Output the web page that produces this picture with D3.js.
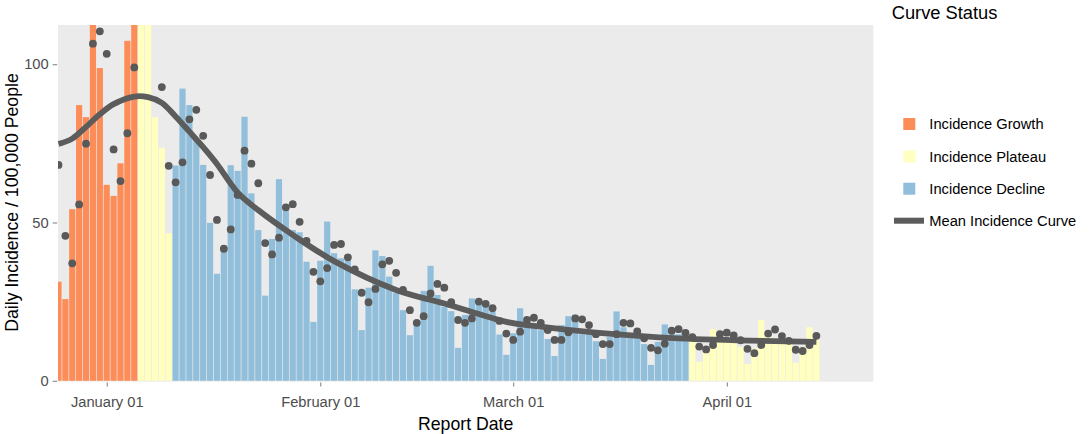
<!DOCTYPE html>
<html><head><meta charset="utf-8">
<script src="https://cdn.jsdelivr.net/npm/d3@7"></script>
<style>
body{margin:0;background:#fff}
svg{display:block}
text{font-family:"Liberation Sans",Arial,Helvetica,sans-serif}
</style>
</head><body>
<svg id="chart" width="1091" height="434"></svg>
<script>
// ---------------- DATA ----------------
const startDate = "2020-12-25"; // first report date (one bar per day)
const incidenceBars = [
  31.3,25.8,54.2,87.1,83.3,120,98.8,                       // Dec 25-31
  61.9,58.4,68.7,107.4,118,122,116,83.2,73.6,46.6,          // Jan 1-10
  68.0,92.3,87.1,76.7,68.2,49.9,33.8,41.7,68.1,66.3,        // Jan 11-20
  83.4,59.2,47.6,26.9,44.8,63.7,54.3,47.6,46.9,37.6,18.6,   // Jan 21-31
  37.9,50.3,40.3,38.7,38.1,28.9,16.0,29.4,41.2,39.4,        // Feb 1-10
  32.9,27.8,22.3,14.4,18.1,28.4,36.3,27.1,23.4,22.0,        // Feb 11-20
  10.4,20.8,26.0,25.0,23.6,21.8,14.6,8.2,                   // Feb 21-28
  15.0,22.9,16.9,16.9,16.0,13.2,7.8,17.6,20.4,20.9,         // Mar 1-10
  14.7,14.7,12.5,6.9,13.9,21.9,16.9,13.9,13.7,11.6,         // Mar 11-20
  5.0,12.3,17.8,16.6,14.7,14.0,13.9,6.0,11.0,16.3,13.9,     // Mar 21-31
  13.3,12.0,10.6,5.3,10.2,19.2,13.9,13.5,12.9,12.4,         // Apr 1-10
  5.7,10.6,16.9,12.9                                        // Apr 11-14
];
const incidencePoints = [
  68.2,45.8,37.1,55.7,74.9,106.5,110.4,
  103.3,73.1,63.1,78.2,99.0,117,121,116,92.8,67.9,
  62.7,69.0,82.6,85.6,77.4,65.0,50.8,41.7,47.8,58.7,
  72.7,68.6,62.4,43.5,39.9,45.2,54.8,55.8,50.2,44.2,34.4,
  31.4,35.6,42.9,43.2,39.0,35.2,27.8,24.8,29.0,36.8,
  37.9,34.1,28.7,22.3,18.3,20.4,27.6,30.6,29.4,24.8,
  19.2,18.3,19.7,25.0,24.3,22.9,18.9,14.9,
  12.9,15.5,19.2,19.9,18.3,16.0,12.9,12.9,15.3,19.7,
  19.4,17.6,14.7,11.6,11.6,14.7,18.3,18.1,15.6,13.4,
  10.4,9.6,11.7,15.8,16.3,15.1,13.8,10.8,9.9,11.3,14.7,
  15.2,14.3,12.8,10.1,8.7,11.3,14.9,16.2,14.1,12.6,
  9.8,9.4,11.3,14.2
];
// curve status phases (each phase runs until the next one starts)
const phaseNames  = ["Incidence Growth","Incidence Plateau","Incidence Decline","Incidence Plateau"];
const phaseStarts = ["2020-12-25","2021-01-06","2021-01-11","2021-03-27"];
// mean incidence curve
const curveDates  = ["2020-12-25","2020-12-27","2020-12-29","2020-12-31","2021-01-02","2021-01-05","2021-01-07",
                     "2021-01-09","2021-01-11","2021-01-13","2021-01-15","2021-01-17","2021-01-20","2021-01-23",
                     "2021-01-28","2021-02-03","2021-02-12","2021-02-19","2021-02-28","2021-03-04","2021-03-13",
                     "2021-03-25","2021-04-14"];
const curveValues = [74.8,76.5,80.2,84.2,87.4,89.8,89.6,87.8,83.5,78.7,73.8,68.5,59.5,53.9,
                     46.1,37.8,28.7,24.4,18.6,17.3,15.2,13.4,12.3];
// legend
const legendLabels = ["Incidence Growth","Incidence Plateau","Incidence Decline"];
const legendColors = ["#fc8d59","#ffffbf","#91bfdb"];
const curveLegendLabel = "Mean Incidence Curve";
const legendTitle = "Curve Status";
// axes
const xTickDates  = ["2021-01-01","2021-02-01","2021-03-01","2021-04-01"];
const xTickLabels = ["January 01","February 01","March 01","April 01"];
const yTicks = [0,50,100];
const xTitle = "Report Date";
const yTitle = "Daily Incidence / 100,000 People";

// ---------------- LAYOUT ----------------
const parse = d3.utcParse("%Y-%m-%d");
const DAY = 864e5;
const L = 58, R = 873.3, T = 25, B = 381.7;
const start = parse(startDate);
const dates = incidenceBars.map((_, i) => d3.utcDay.offset(start, i));
const phaseStartDates = phaseStarts.map(parse);
const colorOf = name => legendColors[legendLabels.indexOf(name)];
function phaseOf(d) {
  let p = 0;
  phaseStartDates.forEach((s, i) => { if (d >= s) p = i; });
  return phaseNames[p];
}

const x = d3.scaleUtc()
  .domain([new Date(start.getTime() - 0.07 * DAY), new Date(start.getTime() + 118.26 * DAY)])
  .range([L, R]);
const y = d3.scaleLinear().domain([-0.3, 112.4]).range([B, T]);
const dayW = x(d3.utcDay.offset(start, 1)) - x(start);
const barW = dayW * 0.9;

const svg = d3.select("#chart");
svg.append("rect").attr("x", L).attr("y", T).attr("width", R - L).attr("height", B - T).attr("fill", "#ebebeb");
svg.append("clipPath").attr("id", "clip").append("rect")
  .attr("x", L).attr("y", T).attr("width", R - L).attr("height", B - T);
const plot = svg.append("g").attr("clip-path", "url(#clip)");

// bars
plot.append("g").selectAll("rect").data(incidenceBars).join("rect")
  .attr("x", (d, i) => x(dates[i]) - barW / 2)
  .attr("width", barW)
  .attr("y", d => y(d))
  .attr("height", d => y(0) - y(d))
  .attr("fill", (d, i) => colorOf(phaseOf(dates[i])));

// mean curve
const cData = curveDates.map((d, i) => [parse(d), curveValues[i]]);
plot.append("path").datum(cData)
  .attr("d", d3.line().x(d => x(d[0])).y(d => y(d[1])).curve(d3.curveCatmullRom.alpha(0.5)))
  .attr("fill", "none").attr("stroke", "#5c5c5c").attr("stroke-width", 5.8).attr("stroke-linecap", "butt");

// points
plot.append("g").selectAll("circle").data(incidencePoints).join("circle")
  .attr("cx", (d, i) => x(dates[i]))
  .attr("cy", d => y(d))
  .attr("r", 3.9)
  .attr("fill", "#595959");

// x axis
const xAxis = d3.axisBottom(x)
  .tickValues(xTickDates.map(parse))
  .tickFormat((d, i) => xTickLabels[i])
  .tickSize(4).tickSizeOuter(0);
const gx = svg.append("g").attr("transform", `translate(0,${B + 0.8})`).call(xAxis);
gx.select(".domain").remove();
gx.selectAll(".tick line").attr("stroke", "#7a7a7a");
gx.selectAll(".tick text").attr("fill", "#4d4d4d").attr("font-size", "14.7px")
  .attr("y", 0).attr("dy", null).attr("transform", "translate(0,24.3)");

// y axis
const yAxis = d3.axisLeft(y).tickValues(yTicks).tickFormat(d3.format("d")).tickSize(4.5).tickSizeOuter(0);
const gy = svg.append("g").attr("transform", `translate(${L - 0.8},0)`).call(yAxis);
gy.select(".domain").remove();
gy.selectAll(".tick line").attr("stroke", "#7a7a7a");
gy.selectAll(".tick text").attr("fill", "#4d4d4d").attr("font-size", "14.7px").attr("x", -8.5);

// axis titles
svg.append("text").attr("x", (L + R) / 2).attr("y", 429.5).attr("text-anchor", "middle")
  .attr("font-size", "17.7px").attr("fill", "#000").text(xTitle);
svg.append("text").attr("transform", "translate(17.5,202.5) rotate(-90)").attr("text-anchor", "middle")
  .attr("font-size", "17.7px").attr("fill", "#000").text(yTitle);

// legend
const lg = svg.append("g");
lg.append("text").attr("x", 891.7).attr("y", 19.2).attr("font-size", "18.3px").attr("fill", "#000").text(legendTitle);
const rowY = [124, 156.5, 188.7, 220.7];
legendLabels.forEach((lab, i) => {
  lg.append("rect").attr("x", 903.3).attr("y", rowY[i] - 6).attr("width", 12).attr("height", 12)
    .attr("fill", legendColors[i]);
  lg.append("text").attr("x", 929.3).attr("y", rowY[i]).attr("dy", "0.36em")
    .attr("font-size", "14.7px").attr("fill", "#000").text(lab);
});
lg.append("line").attr("x1", 894).attr("x2", 924).attr("y1", rowY[3]).attr("y2", rowY[3])
  .attr("stroke", "#5c5c5c").attr("stroke-width", 6);
lg.append("text").attr("x", 929.3).attr("y", rowY[3]).attr("dy", "0.36em")
  .attr("font-size", "14.7px").attr("fill", "#000").text(curveLegendLabel);
</script>
</body></html>
